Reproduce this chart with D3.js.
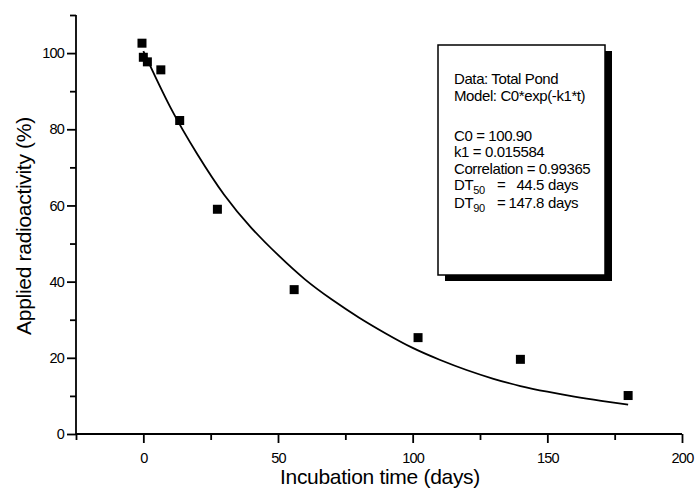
<!DOCTYPE html>
<html>
<head>
<meta charset="utf-8">
<script src="https://cdn.jsdelivr.net/npm/d3@7"></script>
<style>
  html, body { margin: 0; padding: 0; background: #fff; }
  svg { display: block; font-family: "Liberation Sans", Arial, sans-serif; }
</style>
</head>
<body>
<svg id="chart" width="696" height="495"></svg>
<script>
// ---- data ----
const sampleDays   = [-0.5, 0, 1.5, 6.5, 13.5, 27.5, 56, 102, 140, 180];
const sampleValues = [102.6, 98.9, 97.7, 95.6, 82.3, 59.0, 37.9, 25.3, 19.6, 10.1];

const fitDays   = [0, 10, 20, 30, 40, 50, 60, 70, 80, 90, 100, 110, 120, 130, 140, 150, 160, 170, 180];
const fitValues = [100.5, 85.8, 73.5, 62.8, 54.2, 47.0, 40.6, 35.3, 30.6, 26.4, 22.6, 19.5, 16.8, 14.5, 12.6, 11.1, 9.8, 8.7, 7.7];

const xMajorTicks = [0, 50, 100, 150, 200];
const xMinorTicks = [-25, 25, 75, 125, 175];
const yMajorTicks = [0, 20, 40, 60, 80, 100];
const yMinorTicks = [10, 30, 50, 70, 90, 110];

const xTitle = "Incubation time (days)";
const yTitle = "Applied radioactivity (%)";

const boxLines = [
  "Data: Total Pond",
  "Model: C0*exp(-k1*t)"
];
const paramNames  = ["C0", "k1", "Correlation"];
const paramValues = ["100.90", "0.015584", "0.99365"];
const dtSubs   = ["50", "90"];
const dtValues = ["44.5", "147.8"];

// ---- drawing ----
const svg = d3.select("#chart");
const x = d3.scaleLinear().domain([-25, 200]).range([76, 682]);
const y = d3.scaleLinear().domain([0, 110]).range([434, 15]);

const axisW = 1.8;
const tickFs = 14.5;

// Y axis
const gy = svg.append("g").attr("transform", `translate(${x(-25)},0)`)
  .call(d3.axisLeft(y).tickValues(yMajorTicks).tickSize(9).tickPadding(3).tickFormat(d3.format("d")));
gy.select(".domain").remove();
gy.selectAll(".tick line").attr("stroke", "#000").attr("stroke-width", axisW);
gy.selectAll(".tick text").attr("font-size", tickFs).attr("fill", "#000").attr("letter-spacing", -0.8);
const gyMinor = svg.append("g").attr("transform", `translate(${x(-25)},0)`)
  .call(d3.axisLeft(y).tickValues(yMinorTicks).tickSize(6).tickFormat(""));
gyMinor.select(".domain").remove();
gyMinor.selectAll(".tick line").attr("stroke", "#000").attr("stroke-width", axisW);
svg.append("line").attr("x1", x(-25)).attr("x2", x(-25)).attr("y1", y(110)).attr("y2", y(0))
  .attr("stroke", "#000").attr("stroke-width", axisW);

// X axis
const gx = svg.append("g").attr("transform", `translate(0,${y(0)})`)
  .call(d3.axisBottom(x).tickValues(xMajorTicks).tickSize(9).tickPadding(10).tickFormat(d3.format("d")));
gx.select(".domain").remove();
gx.selectAll(".tick line").attr("stroke", "#000").attr("stroke-width", axisW);
gx.selectAll(".tick text").attr("font-size", tickFs).attr("fill", "#000").attr("letter-spacing", -0.8);
const gxMinor = svg.append("g").attr("transform", `translate(0,${y(0)})`)
  .call(d3.axisBottom(x).tickValues(xMinorTicks).tickSize(6).tickFormat(""));
gxMinor.select(".domain").remove();
gxMinor.selectAll(".tick line").attr("stroke", "#000").attr("stroke-width", axisW);
svg.append("line").attr("x1", x(-25)).attr("x2", x(200)).attr("y1", y(0)).attr("y2", y(0))
  .attr("stroke", "#000").attr("stroke-width", axisW);

// Axis titles
svg.append("text").attr("x", (x(-25) + x(200)) / 2 + 1).attr("y", 484)
  .attr("text-anchor", "middle").attr("font-size", 21).attr("letter-spacing", -0.3).text(xTitle);
svg.append("text").attr("transform", `translate(31,${226}) rotate(-90)`)
  .attr("text-anchor", "middle").attr("font-size", 21).attr("letter-spacing", -0.3).text(yTitle);

// Fit curve
const line = d3.line().x((d, i) => x(fitDays[i])).y((d, i) => y(fitValues[i])).curve(d3.curveNatural);
svg.append("path").datum(fitDays).attr("d", line).attr("fill", "none").attr("stroke", "#000").attr("stroke-width", 1.8);

// Data points
const sq = 9;
svg.append("g").selectAll("rect").data(sampleDays).join("rect")
  .attr("x", (d) => x(d) - sq / 2)
  .attr("y", (d, i) => y(sampleValues[i]) - sq / 2)
  .attr("width", sq).attr("height", sq).attr("fill", "#000");

// Info box with shadow
const bx = 438, by = 45, bw = 167, bh = 230;
svg.append("rect").attr("x", bx + 7).attr("y", by + 6).attr("width", bw).attr("height", bh).attr("fill", "#000");
svg.append("rect").attr("x", bx).attr("y", by).attr("width", bw).attr("height", bh)
  .attr("fill", "#fff").attr("stroke", "#000").attr("stroke-width", 1.5);

const tx = 454, fs = 15;
const box = svg.append("g").attr("font-size", fs).attr("letter-spacing", -0.4).attr("fill", "#000");
box.append("text").attr("x", tx).attr("y", 84).text(boxLines[0]);
box.append("text").attr("x", tx).attr("y", 101).text(boxLines[1]);
const pY = [141, 157, 174];
paramNames.forEach((n, i) => {
  box.append("text").attr("x", tx).attr("y", pY[i]).text(`${n} = ${paramValues[i]}`);
});
const dY = [190, 208];
dtSubs.forEach((s, i) => {
  const t = box.append("text").attr("x", tx).attr("y", dY[i]);
  t.append("tspan").text("DT");
  t.append("tspan").attr("font-size", 11).attr("dy", 4).text(s);
  box.append("text").attr("x", 497).attr("y", dY[i]).text("=");
  box.append("text").attr("x", 544).attr("y", dY[i]).attr("text-anchor", "end").text(dtValues[i]);
  box.append("text").attr("x", 548).attr("y", dY[i]).text("days");
});
</script>
</body>
</html>
